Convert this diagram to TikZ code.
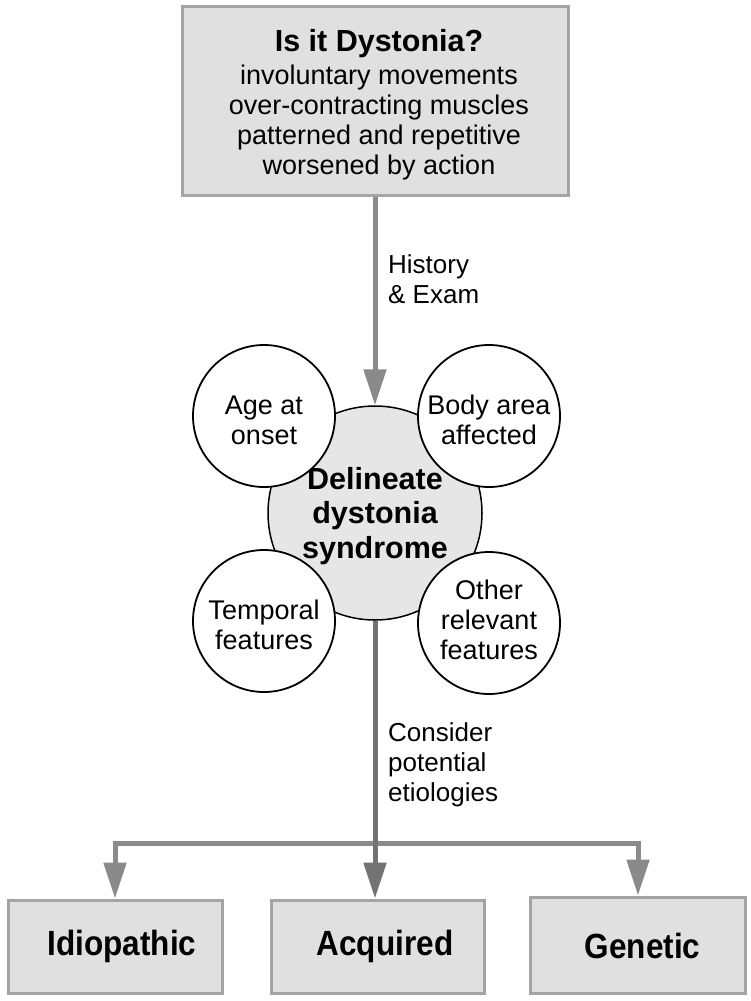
\documentclass[tikz,border=0pt]{standalone}
\usepackage{fontspec}
\setmainfont{Liberation Sans}
\newfontfamily\narrowfont[FakeStretch=0.9,BoldFont={Liberation Sans Bold}]{Liberation Sans}
\usetikzlibrary{arrows.meta}
\definecolor{boxfill}{HTML}{E0E0E0}
\definecolor{boxline}{HTML}{A4A4A4}
\definecolor{circfill}{HTML}{E6E6E6}
\definecolor{arrowgray}{HTML}{8A8A8A}
\definecolor{arrowdark}{HTML}{737373}
\tikzset{
  x=1pt, y=-1pt,
  graybox/.style={draw=boxline, fill=boxfill, line width=3pt, inner sep=0pt},
  bigcirc/.style={circle, draw=black, fill=circfill, line width=1.5pt, minimum size=214pt, inner sep=0pt},
  bigtext/.style={align=center, inner sep=0pt, font=\fontsize{30.5}{34.5}\selectfont\bfseries},
  smallcirc/.style={circle, draw=black, fill=white, line width=1.8pt, minimum size=142pt, inner sep=0pt},
  smalltext/.style={align=center, inner sep=0pt, font=\fontsize{27}{30}\selectfont},
  toptext/.style={align=center, inner sep=0pt, font=\fontsize{27}{30}\selectfont},
  conn/.style={draw=arrowgray, line width=5pt, -{Triangle[width=22pt,length=36pt]}},
  connline/.style={draw=arrowgray, line width=5pt},
  lbl/.style={anchor=north west, align=left, inner sep=0pt, font=\fontsize{26}{30}\selectfont},
  catbox/.style={graybox, minimum height=93pt},
  cattext/.style={inner sep=0pt, font=\narrowfont\fontsize{35}{36}\selectfont\bfseries}
}
\begin{document}
\begin{tikzpicture}
\useasboundingbox[fill=white] (0,0) rectangle (750,1001);
\node[graybox, minimum width=386pt, minimum height=189pt] (top) at (375,100.5) {};
\node[toptext] (toplabel) at (379,105)
  {{\fontsize{30.5}{31}\selectfont\bfseries Is it Dystonia?}\\[3pt]
   involuntary movements\\ over-contracting muscles\\ patterned and repetitive\\ worsened by action};
\node[bigcirc] (big) at (375,513) {};
\node[bigtext] (bigl) at (375,516) {Delineate\\dystonia\\syndrome};
\node[smallcirc] (age) at (264,416) {};
\node[smalltext] (agel) at (264,420) {Age at\\onset};
\node[smallcirc] (body) at (489,416) {};
\node[smalltext] (bodyl) at (489,420) {Body area\\affected};
\node[smallcirc] (temp) at (264,621) {};
\node[smalltext] (templ) at (264,625) {Temporal\\features};
\node[smallcirc] (other) at (489,623) {};
\node[smalltext] (otherl) at (489,620) {Other\\relevant\\features};
\draw[conn] (top.south) -- (big.north);
\node[lbl] (hist) at (388,254) {History\\\& Exam};
\node[lbl] (cons) at (388,722) {Consider\\potential\\etiologies};
\node[catbox, minimum width=214pt] (idio) at (115,946.5) {};
\node[cattext] (idiol) at (122,946) {Idiopathic};
\node[catbox, minimum width=213pt] (acq) at (378,946.5) {};
\node[cattext] (acql) at (385,946) {Acquired};
\node[catbox, minimum width=215pt, minimum height=96pt] (gen) at (637.5,945) {};
\node[cattext] (genl) at (642.5,946) {Genetic};
\coordinate (jl) at (115,843);
\coordinate (jr) at (638,843);
\draw[connline] ([xshift=-2.5pt]jl) -- ([xshift=2.5pt]jr);
\draw[conn] ([yshift=-2.5pt]jl) -- (idio.north -| jl);
\draw[conn] ([yshift=-2.5pt]jr) -- (gen.north -| jr);
\draw[conn, draw=arrowdark] (big.south) -- (big.south |- acq.north);
\end{tikzpicture}
\end{document}
